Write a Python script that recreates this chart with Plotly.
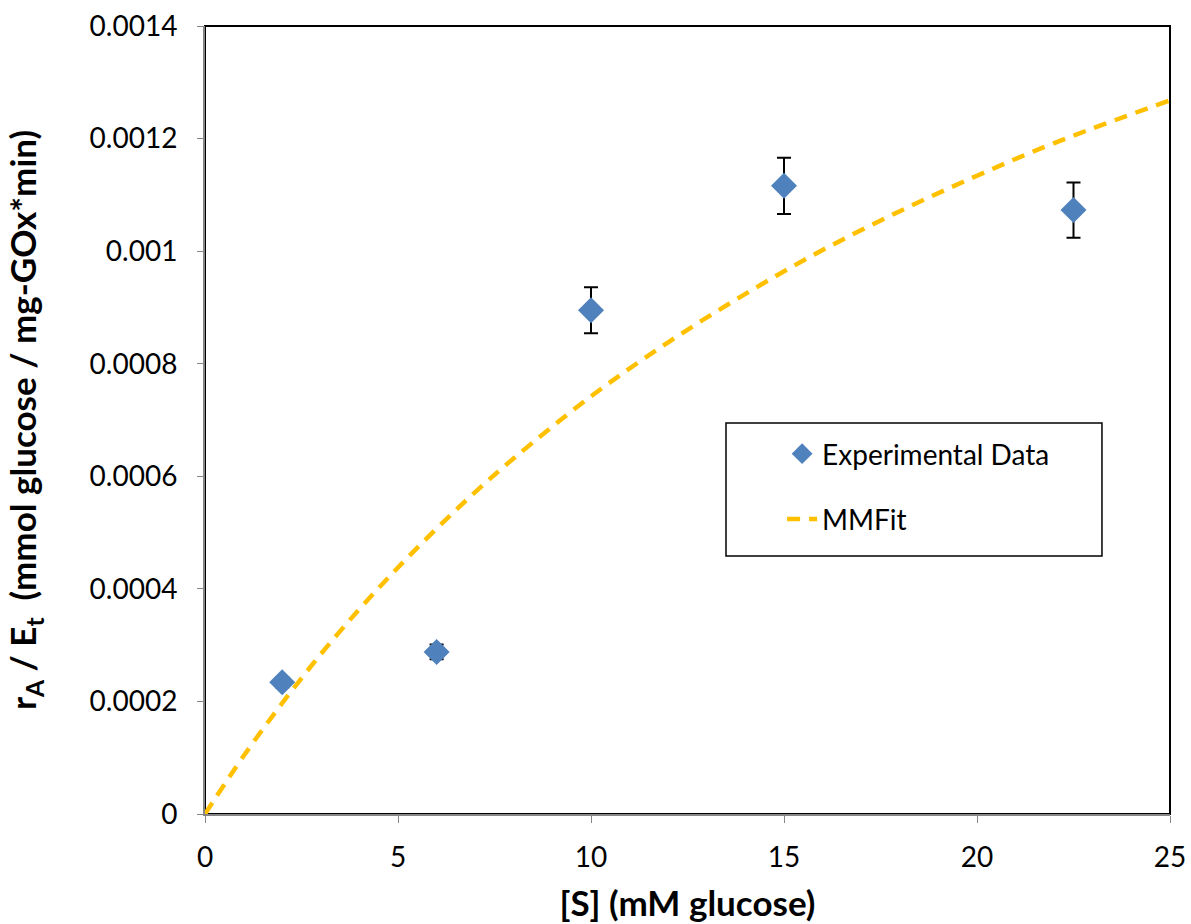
import plotly.graph_objects as go

# Measured initial rates per enzyme amount
s_conc = [2, 6, 10, 15, 22.5]
rate = [0.000234, 0.000288, 0.000895, 0.001116, 0.001073]
rate_err = [0.000009, 0.000013, 0.000041, 0.000050, 0.000049]

# Michaelis-Menten fit curve, sampled
fit_s = [0, 1, 2, 3, 4, 5, 6, 7, 8, 10, 12, 14, 16, 18, 20, 22, 25]
fit_rate = [0.0, 0.000103, 0.000197, 0.000284, 0.000364, 0.000438, 0.000507,
            0.000572, 0.000632, 0.000742, 0.000838, 0.000924, 0.001002,
            0.001071, 0.001134, 0.001192, 0.001268]

x_ticks = [0, 5, 10, 15, 20, 25]
y_ticks = [0, 0.0002, 0.0004, 0.0006, 0.0008, 0.001, 0.0012, 0.0014]
y_ticktext = ["0", "0.0002", "0.0004", "0.0006", "0.0008", "0.001", "0.0012", "0.0014"]

FONT = "Lato, 'Open Sans', sans-serif"

fig = go.Figure()

fig.add_trace(go.Scatter(
    x=s_conc, y=rate, mode="markers", name="Experimental Data",
    legendgroup="a",
    marker=dict(symbol="diamond", size=20, color="#4F81BD"),
    error_y=dict(type="data", array=rate_err, visible=True,
                 color="black", thickness=2, width=7),
))

fig.add_trace(go.Scatter(
    x=fit_s, y=fit_rate, mode="lines", name="MMFit",
    legendgroup="b",
    line=dict(color="#FFC000", width=4.5, dash="13px,9px", shape="spline"),
))

fig.update_layout(
    width=1191, height=924,
    margin=dict(l=205, r=21, t=26, b=110),
    paper_bgcolor="white", plot_bgcolor="white",
    font=dict(family=FONT, size=28, color="black"),
    showlegend=True,
    legend=dict(
        x=0.54, y=0.4886, xanchor="left", yanchor="top",
        borderwidth=0, bgcolor="rgba(0,0,0,0)",
        font=dict(size=28, family=FONT),
        tracegroupgap=26, indentation=56,
    ),
    shapes=[
        # plot-area frame
        dict(type="rect", xref="paper", yref="paper", x0=0, y0=0, x1=1, y1=1,
             line=dict(color="black", width=2), layer="below"),
        # legend frame
        dict(type="rect", xref="paper", yref="paper",
             x0=0.5399, x1=0.9295, y0=0.3274, y1=0.4962,
             line=dict(color="black", width=1.5), fillcolor="white", layer="below"),
    ],
)

fig.update_xaxes(
    range=[0, 25], tickvals=x_ticks, showgrid=False, zeroline=False,
    showline=True, linecolor="#868686", linewidth=2,
    ticks="outside", ticklen=7, tickcolor="#868686", tickwidth=1,
    ticklabelstandoff=10, automargin=False,
    tickfont=dict(size=28, family=FONT),
    title=dict(text="<b>[S] (mM glucose)</b>", font=dict(size=35, family=FONT), standoff=20),
)
fig.update_yaxes(
    range=[0, 0.0014], tickvals=y_ticks, ticktext=y_ticktext,
    showgrid=False, zeroline=False,
    showline=True, linecolor="#868686", linewidth=2,
    ticks="outside", ticklen=6, tickcolor="#868686", tickwidth=1,
    ticklabelstandoff=14, automargin=False,
    tickfont=dict(size=28, family=FONT),
    title=dict(text="<b>r<sub>A</sub> / E<sub>t</sub>  (mmol glucose / mg-GOx*min)</b>",
               font=dict(size=35, family=FONT), standoff=42),
)

fig.write_html("out.html")
